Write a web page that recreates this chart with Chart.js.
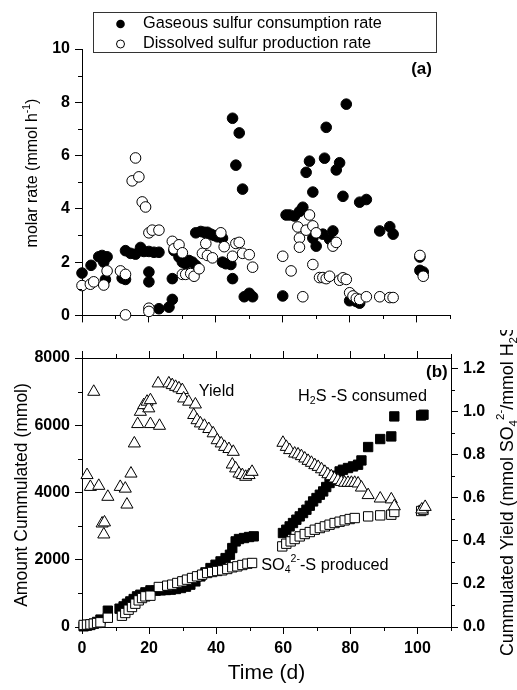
<!DOCTYPE html>
<html><head><meta charset="utf-8">
<script src="https://cdn.jsdelivr.net/npm/chart.js@4.4.0/dist/chart.umd.min.js"></script>
<style>
html,body{margin:0;padding:0;background:#fff;}
#wrap{position:relative;width:517px;height:690px;background:#fff;}
#c1{position:absolute;left:0;top:0;}
#c2{position:absolute;left:0;top:330px;}
</style></head><body>
<div id="wrap"><canvas id="c1" width="517" height="330"></canvas><canvas id="c2" width="517" height="360"></canvas></div>
<script>
// ---------- Panel (a): molar rates ----------
const gasDays = [0,2.7,5,6,6.5,7,7.5,12,13,13,14.5,16,17.5,18.5,20,20,20,21.5,23,23,26,27,27,27.5,29,30,31,32,33,34,34,35.5,36.5,37.5,38.5,39.5,40.5,42,42,43,44.5,45,45,46,47,48,48.5,50,51,60,61,62,63.5,65,66,67,68,69,69,70,72,72.5,73,74,75,76,77,78,79,80,82,83,83,85,89,92,93,101,101,102];
const gasRate = [1.59,1.88,2.2,2.25,2.0,1.35,2.2,1.4,1.35,2.43,2.33,2.3,2.55,2.4,2.4,1.63,1.26,2.37,2.37,0.25,0.31,0.6,1.38,2.43,2.19,2.0,1.94,2.06,2.0,1.88,3.1,3.15,3.12,3.12,3.05,3.0,2.95,2.9,2.0,1.94,1.91,1.38,7.4,5.64,6.85,4.74,0.7,0.83,0.7,0.73,3.77,3.77,3.73,3.9,4.06,5.37,5.79,4.63,2.9,2.6,3.05,5.9,7.06,2.86,3.17,5.46,5.73,4.47,7.93,0.55,0.52,0.46,4.25,4.35,3.17,3.33,3.05,2.19,1.69,1.63];
const dissDays = [0,2.5,3.5,6.5,7.5,11.5,13,13,15,16,17,18,19,20,21,23,20,20,27,27.5,29,30,30,31,32.5,33.5,35,36,37,37.5,39,41.5,42.5,45,46,47,48,50,51,60,62.5,64.5,65,65,66,67,68,69,70,69,71,72,73,74,75,76,77,78,79,80,81,82,83,85,89,92,93,101,102];
const dissRate = [1.12,1.17,1.26,1.14,1.67,1.67,1.54,0.02,5.05,5.91,5.2,4.26,4.07,3.1,3.2,3.2,0.27,0.15,2.78,2.5,2.65,2.35,1.54,1.54,1.57,1.47,1.75,2.33,2.7,2.25,2.16,3.1,2.58,2.22,2.7,2.74,2.33,2.28,1.81,2.22,1.67,3.32,2.9,2.56,0.7,3.2,3.77,3.36,3.1,1.91,1.42,1.42,1.38,1.47,2.6,2.74,1.32,1.41,1.35,0.85,0.73,0.64,0.6,0.7,0.7,0.67,0.67,2.25,1.47];

// ---------- Panel (b): cumulated amounts and yield ----------
const consDays = [0.5,1.5,2.5,3.5,4.5,5.5,7.7,11.2,12.4,13.4,14.4,15.4,16.4,17.4,18.9,20.4,22,23.5,25,26.5,28,29.5,31,32.3,33.8,35.3,36.8,38.3,39.8,41.3,42.8,44.1,44.8,45.8,46.8,48.3,49.8,51.2,59.9,60.9,61.9,62.9,63.9,64.9,65.9,66.9,67.9,68.9,69.9,70.9,71.9,72.8,73.8,74.8,75.8,76.8,77.8,79.3,80.8,82.3,83.3,85.3,88.9,92.2,93.1,101.1,101.8];
const consAmount = [20,40,60,100,150,220,485,545,613,693,761,832,911,960,1030,1090,1080,1090,1100,1110,1130,1160,1200,1259,1357,1505,1624,1753,1852,1951,2050,2149,2348,2546,2616,2646,2676,2696,2795,2893,2992,3092,3191,3289,3389,3488,3607,3735,3836,3934,4032,4163,4282,4380,4499,4627,4677,4728,4776,4826,4954,5352,5590,5668,6263,6290,6313];
const prodDays = [0.5,1.5,2.5,3.5,4.5,5.5,7.7,11.9,12.9,13.9,14.9,15.9,16.9,17.9,18.9,20.4,22.9,25.4,26.9,28.4,29.9,31.3,32.8,34.3,35.8,37.3,38.8,40.3,41.8,43.3,44.8,46.3,47.8,49.3,50.7,59.7,60.9,62.2,63.4,64.9,66.4,67.9,69.4,70.9,72.4,73.8,75.3,76.8,78.3,79.8,81.3,85.3,88.9,92.2,93.1,101.1,101.8];
const prodAmount = [60,70,80,100,120,140,275,335,416,515,594,693,792,861,911,931,1190,1229,1259,1309,1358,1408,1457,1507,1556,1606,1636,1666,1685,1725,1775,1804,1844,1884,1904,2397,2477,2546,2616,2695,2765,2824,2893,2943,2992,3042,3092,3131,3171,3211,3241,3290,3320,3340,3420,3450,3480];
const yieldDays = [1.5,2.5,3.5,5,6,6.5,6.7,7.7,11.4,12.9,13.4,14.6,15.6,16.6,17.4,18.4,19.4,19.9,20.4,20.4,22.7,23.1,25.9,26.9,27.9,28.9,29.9,30.3,31.8,33.8,33.3,34.3,35.3,36.5,37.8,39.1,40.3,41.5,42.5,43.8,45.1,44.8,45.8,46.8,47.8,48.8,49.8,50.7,59.9,60.9,61.9,63.4,64.4,65.4,66.4,67.4,68.4,69.4,70.4,71.4,72.4,73.3,74.3,75.3,76.3,77.3,78.3,79.3,80.3,81.3,82.3,83.3,85.3,88.9,92.2,93.1,101.3,102.3];
const yieldValues = [0.706,0.651,1.093,0.656,0.481,0.43,0.486,0.605,0.651,0.643,0.569,0.713,0.853,0.943,1.0,1.031,1.047,1.016,1.054,0.943,1.132,0.935,1.132,1.124,1.116,1.109,1.101,1.062,1.047,1.034,0.985,0.961,0.946,0.935,0.92,0.9,0.868,0.853,0.837,0.827,0.814,0.755,0.737,0.713,0.706,0.698,0.706,0.721,0.856,0.837,0.822,0.806,0.802,0.794,0.783,0.772,0.763,0.752,0.744,0.733,0.721,0.71,0.701,0.69,0.682,0.674,0.67,0.67,0.67,0.67,0.667,0.648,0.613,0.597,0.593,0.561,0.546,0.558];

// ---------- ticks ----------
const xTicks = [0,10,20,30,40,50,60,70,80,90,100,110];
const xMajorTicks = [0,20,40,60,80,100];
const rateTicks = [0,1,2,3,4,5,6,7,8,9,10];
const rateMajorTicks = [0,2,4,6,8,10];
const amountTicks = [0,1000,2000,3000,4000,5000,6000,7000,8000];
const amountMajorTicks = [0,2000,4000,6000,8000];
const yieldTicks = [0,0.1,0.2,0.3,0.4,0.5,0.6,0.7,0.8,0.9,1.0,1.1,1.2];
const yieldMajorTicks = [0,0.2,0.4,0.6,0.8,1.0,1.2];

const FONT = "'Liberation Sans', Arial, Helvetica, sans-serif";
const pts = (xs, ys) => xs.map((x, i) => ({x: x, y: ys[i]}));
const has = (arr, v) => arr.some(a => Math.abs(a - v) < 1e-9);

function axis(ticksArr, majorArr, showLabels, extra, fmt) {
  return Object.assign({
    type: 'linear',
    afterBuildTicks: s => { s.ticks = ticksArr.map(v => ({value: v})); },
    ticks: {
      autoSkip: false, maxRotation: 0, minRotation: 0, color: '#000',
      font: {family: FONT, size: 16, weight: 'bold'}, padding: 5,
      callback: v => (showLabels && has(majorArr, v)) ? (fmt ? fmt(v) : String(v)) : ''
    },
    grid: {drawOnChartArea: false, drawTicks: true, tickLength: 7, color: '#000', lineWidth: 1,
      tickColor: c => (c.tick && has(majorArr, c.tick.value)) ? '#000' : 'rgba(0,0,0,0)'},
    border: {display: true, color: '#000', width: 1},
    _minor: ticksArr.filter(v => !has(majorArr, v))
  }, extra);
}

// short minor tick marks
const minorTickPlugin = {
  id: 'minorTicks',
  afterDraw(chart) {
    const ctx = chart.ctx;
    ctx.save();
    ctx.strokeStyle = '#000'; ctx.lineWidth = 1;
    Object.values(chart.scales).forEach(s => {
      const minor = s.options._minor || [];
      const L = 4;
      minor.forEach(v => {
        const p = Math.round(s.getPixelForValue(v)) + 0.5;
        ctx.beginPath();
        if (s.position === 'bottom') { const y = Math.round(chart.chartArea.bottom); ctx.moveTo(p, y); ctx.lineTo(p, y + L); }
        else if (s.position === 'top') { const y = Math.round(chart.chartArea.top); ctx.moveTo(p, y); ctx.lineTo(p, y - L); }
        else if (s.position === 'left') { const x = Math.round(chart.chartArea.left); ctx.moveTo(x, p); ctx.lineTo(x - L, p); }
        else { const x = Math.round(chart.chartArea.right); ctx.moveTo(x, p); ctx.lineTo(x + L, p); }
        ctx.stroke();
      });
    });
    ctx.restore();
  }
};

function setFont(ctx, size, bold) {
  ctx.font = (bold ? 'bold ' : '') + size + 'px ' + FONT;
}
// segments: [text, mode] where mode in '', 'sup', 'sub'
function richWidth(ctx, segs, size, bold) {
  let w = 0;
  segs.forEach(([t, m]) => { setFont(ctx, m ? size * 0.65 : size, bold); w += ctx.measureText(t).width; });
  return w;
}
function drawRich(ctx, segs, x, y, size, opt) {
  opt = opt || {};
  ctx.save();
  ctx.translate(x, y);
  if (opt.rot) ctx.rotate(opt.rot);
  ctx.fillStyle = '#000';
  ctx.textBaseline = 'middle';
  ctx.textAlign = 'left';
  const w = richWidth(ctx, segs, size, opt.bold);
  let cx = opt.align === 'center' ? -w / 2 : (opt.align === 'right' ? -w : 0);
  segs.forEach(([t, m]) => {
    const s = m ? size * 0.65 : size;
    setFont(ctx, s, opt.bold);
    const dy = m === 'sup' ? -size * 0.38 : (m === 'sub' ? size * 0.3 : 0);
    ctx.fillText(t, cx, dy);
    cx += ctx.measureText(t).width;
  });
  ctx.restore();
}

// ---------- Chart (a) ----------
const panelA = {
  id: 'panelA',
  afterDraw(chart) {
    const ctx = chart.ctx;
    const xs = chart.scales.x, ys = chart.scales.y;
    drawRich(ctx, [['molar rate (mmol h', ''], ['-1', 'sup'], [')', '']], 33, 173, 16, {rot: -Math.PI / 2, align: 'center'});
    drawRich(ctx, [['(a)', '']], xs.getPixelForValue(101.5), ys.getPixelForValue(9.22), 17, {bold: true, align: 'center'});
    ctx.save();
    ctx.strokeStyle = '#333'; ctx.lineWidth = 1;
    ctx.fillStyle = '#fff';
    ctx.fillRect(93.5, 12.5, 343, 40);
    ctx.strokeRect(93.5, 12.5, 343, 40);
    ctx.beginPath(); ctx.arc(120.5, 24, 4.3, 0, Math.PI * 2); ctx.fillStyle = '#000'; ctx.fill();
    ctx.beginPath(); ctx.arc(120.5, 44, 4.0, 0, Math.PI * 2); ctx.fillStyle = '#fff'; ctx.fill(); ctx.strokeStyle = '#000'; ctx.stroke();
    ctx.restore();
    drawRich(ctx, [['Gaseous sulfur consumption rate', '']], 143, 24, 16.3);
    drawRich(ctx, [['Dissolved sulfur production rate', '']], 143, 44, 16.3);
  }
};

new Chart(document.getElementById('c1'), {
  type: 'scatter',
  data: {
    datasets: [
      {label: 'Dissolved sulfur production rate', data: pts(dissDays, dissRate), pointStyle: 'circle', pointRadius: 5.3,
       backgroundColor: '#fff', borderColor: '#000', borderWidth: 1, clip: false, order: 1},
      {label: 'Gaseous sulfur consumption rate', data: pts(gasDays, gasRate), pointStyle: 'circle', pointRadius: 5.3,
       backgroundColor: '#000', borderColor: '#000', borderWidth: 1, clip: false, order: 2}
    ]
  },
  options: {
    responsive: false, animation: false, devicePixelRatio: 1,
    layout: {padding: {top: 49, right: 67, bottom: 0, left: 0}},
    plugins: {legend: {display: false}, tooltip: {enabled: false}},
    scales: {
      x: axis(xTicks, xMajorTicks, false, {min: 0, max: 110, position: 'bottom', afterFit: s => { s.height = 11; }}),
      y: axis(rateTicks, rateMajorTicks, true, {min: 0, max: 10, position: 'left', afterFit: s => { s.width = 82; }})
    }
  },
  plugins: [minorTickPlugin, panelA]
});

// ---------- Chart (b) ----------
const panelB = {
  id: 'panelB',
  afterDraw(chart) {
    const ctx = chart.ctx;
    const xs = chart.scales.x, ys = chart.scales.y;
    const P = (t, a) => [xs.getPixelForValue(t), ys.getPixelForValue(a)];
    drawRich(ctx, [['Amount Cummulated (mmol)', '']], 22, 165, 17.5, {rot: -Math.PI / 2, align: 'center'});
    drawRich(ctx, [['Cummulated Yield (mmol SO', ''], ['4', 'sub'], ['2-', 'sup'], ['/mmol H', ''], ['2', 'sub'], ['S)', '']], 508, 326, 17.8, {rot: -Math.PI / 2, align: 'left'});
    drawRich(ctx, [['Time (d)', '']], 266.5, 343, 21, {align: 'center'});
    let p = P(105.8, 7562); drawRich(ctx, [['(b)', '']], p[0], p[1], 17, {bold: true, align: 'center'});
    p = P(34.8, 7006); drawRich(ctx, [['Yield', '']], p[0], p[1], 16.3);
    p = P(64.4, 6857); drawRich(ctx, [['H', ''], ['2', 'sub'], ['S -S consumed', '']], p[0], p[1], 16.3);
    p = P(53.4, 1832); drawRich(ctx, [['SO', ''], ['4', 'sub'], ['2-', 'sup'], ['-S produced', '']], p[0], p[1], 16.3);
  }
};

new Chart(document.getElementById('c2'), {
  type: 'scatter',
  data: {
    datasets: [
      {label: 'Yield', data: pts(yieldDays, yieldValues), yAxisID: 'y2', pointStyle: 'triangle', pointRadius: 7,
       backgroundColor: '#fff', borderColor: '#000', borderWidth: 1, clip: false, order: 1},
      {label: 'SO4-S produced', data: pts(prodDays, prodAmount), yAxisID: 'y', pointStyle: 'rect', pointRadius: 6.6,
       backgroundColor: '#fff', borderColor: '#000', borderWidth: 1, clip: false, order: 2},
      {label: 'H2S-S consumed', data: pts(consDays, consAmount), yAxisID: 'y', pointStyle: 'rect', pointRadius: 6.6,
       backgroundColor: '#000', borderColor: '#000', borderWidth: 1, clip: false, order: 3}
    ]
  },
  options: {
    responsive: false, animation: false, devicePixelRatio: 1,
    layout: {padding: {top: 20, right: 0, bottom: 0, left: 0}},
    plugins: {legend: {display: false}, tooltip: {enabled: false}},
    scales: {
      x: axis(xTicks, xMajorTicks, true, {min: 0, max: 110, position: 'bottom', afterFit: s => { s.height = 63; }}),
      x2: axis(xTicks, xMajorTicks, false, {min: 0, max: 110, position: 'top', afterFit: s => { s.height = 8; }}),
      y: axis(amountTicks, amountMajorTicks, true, {min: 0, max: 8000, position: 'left', afterFit: s => { s.width = 82; }}),
      y2: axis(yieldTicks, yieldMajorTicks, true, {min: 0, max: 1.25, position: 'right', afterFit: s => { s.width = 66; }}, v => v.toFixed(1))
    }
  },
  plugins: [minorTickPlugin, panelB]
});
</script>
</body></html>
